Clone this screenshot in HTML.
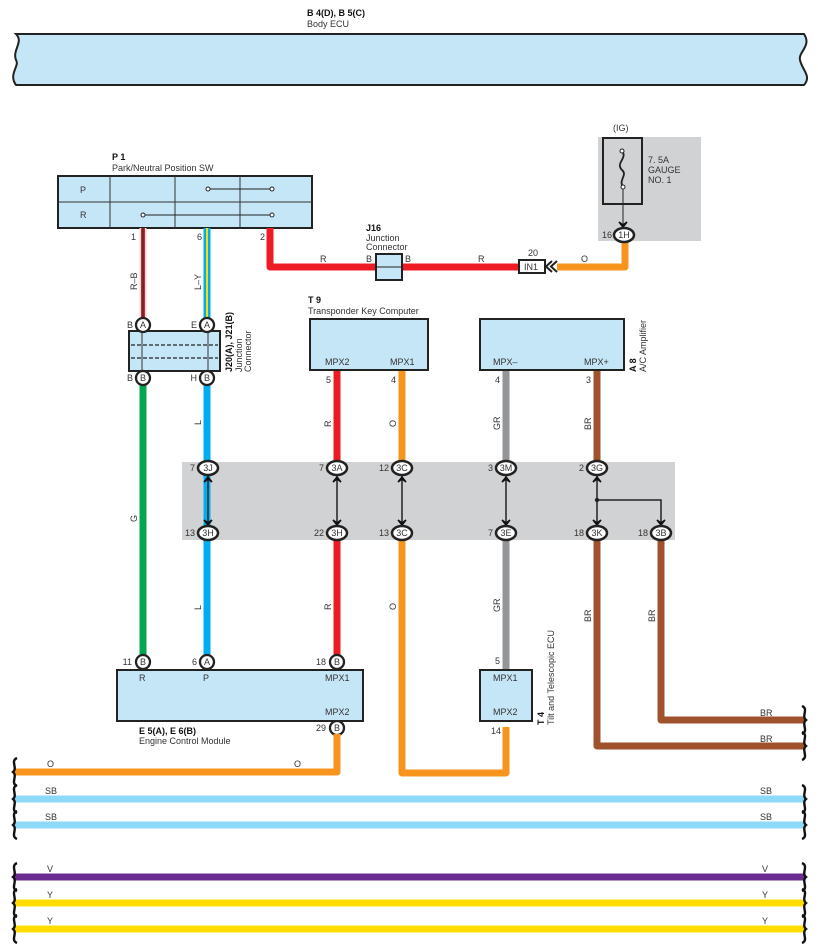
<!DOCTYPE html>
<html><head><meta charset="utf-8"><style>
html,body{margin:0;padding:0;background:#fff;}
svg{display:block;font-family:"Liberation Sans",sans-serif;}
text{font-size:9px;fill:#333;}
.b{font-weight:bold;fill:#111;}
</style></head><body>
<svg width="818" height="951" viewBox="0 0 818 951" xmlns="http://www.w3.org/2000/svg">
<defs>
<path id="bl" d="M4,-14 C-3,-11 5,-4 0,0 C5,4 -3,11 4,14" fill="none" stroke="#111" stroke-width="2.4"/>
<path id="br" d="M-4,-14 C3,-11 -5,-4 0,0 C-5,4 3,11 -4,14" fill="none" stroke="#111" stroke-width="2.4"/>
<g id="dn"><path d="M-4,-5 L0,0 L4,-5 L0,-2 Z" fill="#111" stroke="#111" stroke-width="1.5"/></g>
<g id="up"><path d="M-4,5 L0,0 L4,5 L0,2 Z" fill="#111" stroke="#111" stroke-width="1.5"/></g>
</defs>

<!-- Body ECU -->
<text x="307" y="16" class="b">B 4(D), B 5(C)</text>
<text x="307" y="27">Body ECU</text>
<path d="M16,34 H804 C812,46 798,52 800,60 C802,70 812,76 804,85 H16 C8,74 20,66 16,60 C12,50 24,42 16,34 Z" fill="#c5e6f7" stroke="#222" stroke-width="2"/>

<!-- gray areas -->
<rect x="598" y="137" width="103" height="104" fill="#d1d2d4"/>
<rect x="182" y="462" width="493" height="78" fill="#d1d2d4"/>

<!-- P1 -->
<text x="112" y="160" class="b">P 1</text>
<text x="112" y="171">Park/Neutral Position SW</text>
<rect x="58" y="176" width="254" height="52" fill="#c5e6f7" stroke="#222" stroke-width="2"/>
<path d="M58,202 H312 M110,176 V228 M175,176 V228 M240,176 V228" stroke="#333" stroke-width="1"/>
<text x="80" y="193">P</text><text x="80" y="218">R</text>
<path d="M208,189 H272 M143,215 H272" stroke="#222" stroke-width="1"/>
<g fill="#fff" stroke="#222" stroke-width="1"><circle cx="208" cy="189" r="2"/><circle cx="272" cy="189" r="2"/><circle cx="143" cy="215" r="2"/><circle cx="272" cy="215" r="2"/></g>

<!-- wires from P1 -->
<rect x="139.5" y="228" width="7" height="91" fill="#fdd"/>
<rect x="141" y="228" width="4" height="91" fill="#e31e24"/>
<rect x="142.3" y="228" width="1.4" height="91" fill="#333"/>
<rect x="203.5" y="228" width="7" height="91" fill="#00aeef"/>
<rect x="206" y="228" width="2" height="91" fill="#ffdd00"/>
<text x="136" y="240" text-anchor="end">1</text>
<text x="202" y="240" text-anchor="end">6</text>
<text x="265" y="240" text-anchor="end">2</text>
<text transform="translate(137,290) rotate(-90)">R–B</text>
<text transform="translate(201,290) rotate(-90)">L–Y</text>

<path d="M270,228 V267 H522" fill="none" stroke="#ed1c24" stroke-width="7" stroke-linejoin="round"/>
<text x="320" y="262">R</text><text x="366" y="262">B</text><text x="405" y="262">B</text><text x="478" y="262">R</text>
<text x="366" y="231" class="b">J16</text>
<text x="366" y="241">Junction</text>
<text x="366" y="250">Connector</text>
<rect x="376" y="254" width="26" height="26" fill="#c5e6f7" stroke="#222" stroke-width="2"/>
<line x1="376" y1="267" x2="402" y2="267" stroke="#222" stroke-width="1"/>
<text x="528" y="256">20</text>
<rect x="519" y="260" width="26" height="13" fill="#fff" stroke="#222" stroke-width="2"/>
<text x="524" y="270">IN1</text>
<path d="M552,261 L546,266.5 L552,272 M557,261 L551,266.5 L557,272" fill="none" stroke="#222" stroke-width="2"/>
<path d="M557,267 H625 V240" fill="none" stroke="#f7941d" stroke-width="7" stroke-linejoin="round"/>
<text x="581" y="262">O</text>

<!-- fuse -->
<text x="613" y="131">(IG)</text>
<rect x="603" y="138" width="39" height="66" fill="#d1d2d4" stroke="#222" stroke-width="2"/>
<path d="M622,151 C628,158 615,163 622,170 C628,175 618,180 623,187" fill="none" stroke="#222" stroke-width="1.8"/>
<circle cx="622" cy="151" r="2" fill="#fff" stroke="#222"/><circle cx="623" cy="187" r="2" fill="#fff" stroke="#222"/>
<line x1="623" y1="189" x2="623" y2="225" stroke="#222" stroke-width="1"/>
<use href="#dn" x="623" y="227"/>
<text x="648" y="163">7. 5A</text><text x="648" y="173">GAUGE</text><text x="648" y="183">NO. 1</text>
<ellipse cx="624" cy="235" rx="10" ry="7" fill="#fff" stroke="#222" stroke-width="2.5"/>
<text x="624" y="238" text-anchor="middle">1H</text>
<text x="612" y="238" text-anchor="end">16</text>

<!-- J20 -->
<rect x="129" y="331" width="91" height="40" fill="#c5e6f7" stroke="#222" stroke-width="2"/>
<path d="M142,331 V371 M208,331 V371" stroke="#333" stroke-width="1"/>
<path d="M131,345 H218 M131,358 H218" stroke="#222" stroke-width="1.2" stroke-dasharray="4,2"/>
<text transform="translate(232,372) rotate(-90)" class="b">J20(A), J21(B)</text>
<text transform="translate(242,372) rotate(-90)">Junction</text>
<text transform="translate(251,372) rotate(-90)">Connector</text>

<!-- wires down -->
<line x1="143" y1="384" x2="143" y2="656" stroke="#00a651" stroke-width="7"/>
<line x1="207" y1="384" x2="207" y2="656" stroke="#00aeef" stroke-width="7"/>
<text transform="translate(137,522) rotate(-90)">G</text>
<text transform="translate(201,425) rotate(-90)">L</text>
<text transform="translate(201,610) rotate(-90)">L</text>

<!-- T9 -->
<text x="308" y="303" class="b">T 9</text>
<text x="308" y="314">Transponder Key Computer</text>
<rect x="310" y="319" width="118" height="51" fill="#c5e6f7" stroke="#222" stroke-width="2"/>
<text x="325" y="365">MPX2</text><text x="390" y="365">MPX1</text>
<!-- A8 -->
<rect x="480" y="319" width="144" height="51" fill="#c5e6f7" stroke="#222" stroke-width="2"/>
<text x="493" y="365">MPX–</text><text x="584" y="365">MPX+</text>
<text transform="translate(636,372) rotate(-90)" class="b">A 8</text>
<text transform="translate(646,372) rotate(-90)">A/C Amplifier</text>

<line x1="337" y1="371" x2="337" y2="462" stroke="#ed1c24" stroke-width="7"/>
<line x1="402" y1="371" x2="402" y2="462" stroke="#f7941d" stroke-width="7"/>
<line x1="506" y1="371" x2="506" y2="462" stroke="#939598" stroke-width="7"/>
<line x1="597" y1="371" x2="597" y2="462" stroke="#a0522d" stroke-width="7"/>
<text x="331" y="383" text-anchor="end">5</text><text x="396" y="383" text-anchor="end">4</text>
<text x="500" y="383" text-anchor="end">4</text><text x="591" y="383" text-anchor="end">3</text>
<text transform="translate(331,427) rotate(-90)">R</text>
<text transform="translate(396,427) rotate(-90)">O</text>
<text transform="translate(500,430) rotate(-90)">GR</text>
<text transform="translate(591,430) rotate(-90)">BR</text>

<!-- lower wires -->
<line x1="337" y1="540" x2="337" y2="656" stroke="#ed1c24" stroke-width="7"/>
<path d="M402,540 V773 H506 V727" fill="none" stroke="#f7941d" stroke-width="7" stroke-linejoin="round"/>
<line x1="506" y1="540" x2="506" y2="670" stroke="#939598" stroke-width="7"/>
<path d="M597,540 V746 H805" fill="none" stroke="#a0522d" stroke-width="7" stroke-linejoin="round"/>
<path d="M661,540 V720 H805" fill="none" stroke="#a0522d" stroke-width="7" stroke-linejoin="round"/>
<text transform="translate(331,610) rotate(-90)">R</text>
<text transform="translate(396,610) rotate(-90)">O</text>
<text transform="translate(500,612) rotate(-90)">GR</text>
<text transform="translate(591,622) rotate(-90)">BR</text>
<text transform="translate(655,622) rotate(-90)">BR</text>
<text x="760" y="716">BR</text><text x="760" y="742">BR</text>

<!-- band connectors -->
<g stroke="#222" stroke-width="1.5">
<line x1="208" y1="476" x2="208" y2="524"/><line x1="337" y1="476" x2="337" y2="524"/>
<line x1="402" y1="476" x2="402" y2="524"/><line x1="506" y1="476" x2="506" y2="524"/>
<line x1="597" y1="476" x2="597" y2="524"/><path d="M597,500 H661 V524" fill="none"/>
</g>
<circle cx="597" cy="500" r="2.2" fill="#222"/>
<use href="#up" x="208" y="477"/><use href="#dn" x="208" y="525"/>
<use href="#up" x="337" y="477"/><use href="#dn" x="337" y="525"/>
<use href="#up" x="402" y="477"/><use href="#dn" x="402" y="525"/>
<use href="#up" x="506" y="477"/><use href="#dn" x="506" y="525"/>
<use href="#up" x="597" y="477"/><use href="#dn" x="597" y="525"/><use href="#dn" x="661" y="525"/>
<g fill="#fff" stroke="#222" stroke-width="2.5">
<ellipse cx="208" cy="468" rx="10" ry="7"/><ellipse cx="337" cy="468" rx="10" ry="7"/><ellipse cx="402" cy="468" rx="10" ry="7"/>
<ellipse cx="506" cy="468" rx="10" ry="7"/><ellipse cx="597" cy="468" rx="10" ry="7"/>
<ellipse cx="208" cy="533" rx="10" ry="7"/><ellipse cx="337" cy="533" rx="10" ry="7"/><ellipse cx="402" cy="533" rx="10" ry="7"/>
<ellipse cx="506" cy="533" rx="10" ry="7"/><ellipse cx="597" cy="533" rx="10" ry="7"/><ellipse cx="661" cy="533" rx="10" ry="7"/>
</g>
<g text-anchor="middle">
<text x="208" y="471">3J</text><text x="337" y="471">3A</text><text x="402" y="471">3C</text><text x="506" y="471">3M</text><text x="597" y="471">3G</text>
<text x="208" y="536">3H</text><text x="337" y="536">3H</text><text x="402" y="536">3C</text><text x="506" y="536">3E</text><text x="597" y="536">3K</text><text x="661" y="536">3B</text>
</g>
<g text-anchor="end">
<text x="195" y="471">7</text><text x="324" y="471">7</text><text x="389" y="471">12</text><text x="493" y="471">3</text><text x="584" y="471">2</text>
<text x="195" y="536">13</text><text x="324" y="536">22</text><text x="389" y="536">13</text><text x="493" y="536">7</text><text x="584" y="536">18</text><text x="648" y="536">18</text>
</g>

<!-- circle pins A/B -->
<g fill="#fff" stroke="#222" stroke-width="2.3">
<circle cx="143" cy="325" r="7"/><circle cx="207" cy="325" r="7"/>
<circle cx="143" cy="378" r="7"/><circle cx="207" cy="378" r="7"/>
<circle cx="143" cy="662" r="7"/><circle cx="207" cy="662" r="7"/><circle cx="337" cy="662" r="7"/>
<circle cx="337" cy="728" r="7"/>
</g>
<g text-anchor="middle">
<text x="143" y="328">A</text><text x="207" y="328">A</text><text x="143" y="381">B</text><text x="207" y="381">B</text>
<text x="143" y="665">B</text><text x="207" y="665">A</text><text x="337" y="665">B</text><text x="337" y="731">B</text>
</g>
<g text-anchor="end">
<text x="133" y="328">B</text><text x="197" y="328">E</text><text x="133" y="381">B</text><text x="197" y="381">H</text>
<text x="132" y="665">11</text><text x="197" y="665">6</text><text x="326" y="665">18</text><text x="326" y="731">29</text>
</g>

<!-- ECM -->
<rect x="117" y="670" width="246" height="51" fill="#c5e6f7" stroke="#222" stroke-width="2"/>
<text x="139" y="681">R</text><text x="203" y="681">P</text><text x="325" y="681">MPX1</text><text x="325" y="715">MPX2</text>
<text x="139" y="734" class="b">E 5(A), E 6(B)</text>
<text x="139" y="744">Engine Control Module</text>

<!-- T4 -->
<rect x="480" y="670" width="52" height="51" fill="#c5e6f7" stroke="#222" stroke-width="2"/>
<text x="493" y="681">MPX1</text><text x="493" y="715">MPX2</text>
<text x="500" y="664" text-anchor="end">5</text><text x="501" y="734" text-anchor="end">14</text>
<text transform="translate(544,725) rotate(-90)" class="b">T 4</text>
<text transform="translate(554,725) rotate(-90)">Tilt and Telescopic ECU</text>

<!-- bottom wires -->
<path d="M337,734 V772 H14" fill="none" stroke="#f7941d" stroke-width="7" stroke-linejoin="round"/>
<text x="47" y="767">O</text><text x="294" y="767">O</text>
<line x1="14" y1="799" x2="805" y2="799" stroke="#8ed8f8" stroke-width="7"/>
<line x1="14" y1="825" x2="805" y2="825" stroke="#8ed8f8" stroke-width="7"/>
<line x1="14" y1="877" x2="805" y2="877" stroke="#6b2c91" stroke-width="7"/>
<line x1="14" y1="903" x2="805" y2="903" stroke="#ffdd00" stroke-width="7"/>
<line x1="14" y1="929" x2="805" y2="929" stroke="#ffdd00" stroke-width="7"/>
<text x="45" y="794">SB</text><text x="760" y="794">SB</text>
<text x="45" y="820">SB</text><text x="760" y="820">SB</text>
<text x="47" y="872">V</text><text x="762" y="872">V</text>
<text x="47" y="898">Y</text><text x="762" y="898">Y</text>
<text x="47" y="924">Y</text><text x="762" y="924">Y</text>

<!-- braces -->
<use href="#bl" x="13" y="772"/><use href="#bl" x="13" y="799"/><use href="#bl" x="13" y="825"/>
<use href="#bl" x="13" y="877"/><use href="#bl" x="13" y="903"/><use href="#bl" x="13" y="929"/>
<use href="#br" x="806" y="720"/><use href="#br" x="806" y="746"/>
<use href="#br" x="806" y="799"/><use href="#br" x="806" y="825"/>
<use href="#br" x="806" y="877"/><use href="#br" x="806" y="903"/><use href="#br" x="806" y="929"/>
</svg>
</body></html>
